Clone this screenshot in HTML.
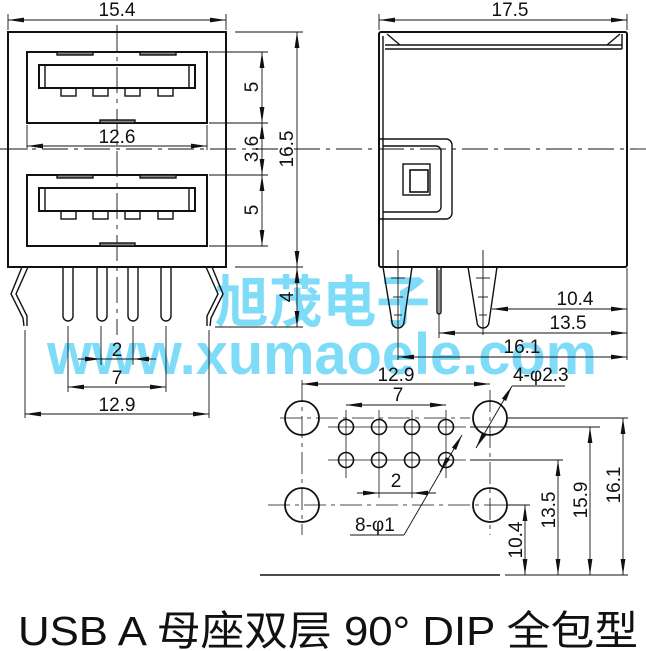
<!DOCTYPE html>
<html><head><meta charset="utf-8"><style>
html,body{margin:0;padding:0;background:#fff}
svg{display:block}
text{font-family:"Liberation Sans","Noto Sans CJK SC",sans-serif;fill:#111}
</style></head><body>
<svg width="646" height="651" viewBox="0 0 646 651" xmlns="http://www.w3.org/2000/svg">
<defs>
<marker id="a" viewBox="0 0 16 6" refX="16" refY="3" markerWidth="16" markerHeight="6" markerUnits="userSpaceOnUse" orient="auto-start-reverse"><path d="M0,0.6 L16,3 L0,5.4z" fill="#111"/></marker>
</defs>
<text x="215" y="322" font-size="56" font-weight="bold" style="fill:#7fdcf8" textLength="215" lengthAdjust="spacingAndGlyphs">旭茂电子</text>
<text x="47" y="374" font-size="58" font-weight="bold" style="fill:#7fdcf8" textLength="550" lengthAdjust="spacingAndGlyphs">www.xumaoele.com</text>

<g fill="none" stroke="#111" stroke-width="1.4">
<line x1="0" y1="149" x2="646" y2="149" stroke-width="0.9" stroke-dasharray="26,6,4,6"/>
<line x1="117" y1="25" x2="117" y2="335" stroke-width="0.9" stroke-dasharray="26,6,4,6"/>

<rect x="8" y="32" width="218" height="235" stroke-width="2"/>
<rect x="27" y="52" width="180" height="71" stroke-width="2"/>
<rect x="39" y="65" width="156" height="23" stroke-width="2"/>
<line x1="45" y1="65" x2="45" y2="88"/><line x1="189" y1="65" x2="189" y2="88"/>
<rect x="61" y="88" width="15" height="8"/><rect x="93" y="88" width="15" height="8"/><rect x="125" y="88" width="15" height="8"/><rect x="158" y="88" width="15" height="8"/>
<rect x="57" y="52" width="36" height="3" fill="#888"/><rect x="140" y="52" width="36" height="3" fill="#888"/>
<rect x="100" y="120" width="35" height="3" fill="#888"/>
<rect x="27" y="175" width="180" height="71" stroke-width="2"/>
<rect x="39" y="188" width="156" height="23" stroke-width="2"/>
<line x1="45" y1="188" x2="45" y2="211"/><line x1="189" y1="188" x2="189" y2="211"/>
<rect x="61" y="211" width="15" height="8"/><rect x="93" y="211" width="15" height="8"/><rect x="125" y="211" width="15" height="8"/><rect x="158" y="211" width="15" height="8"/>
<rect x="57" y="175" width="36" height="3" fill="#888"/><rect x="140" y="175" width="36" height="3" fill="#888"/>
<rect x="100" y="243" width="35" height="3" fill="#888"/>
<path d="M63,267 V316 a5,5 0 0 0 10,0 V267"/>
<path d="M97,267 V316 a5,5 0 0 0 10,0 V267"/>
<path d="M128,267 V316 a5,5 0 0 0 10,0 V267"/>
<path d="M161,267 V316 a5,5 0 0 0 10,0 V267"/>
<path d="M22,267 L11,294 L23,318 L24,326 M28,267 L16,294 L27,316 L27,326"/>
<path d="M212,267 L223,294 L211,318 L210,326 M206,267 L218,294 L207,316 L207,326"/>
<g stroke-width="0.9">
<line x1="8" y1="14" x2="8" y2="30"/><line x1="226" y1="14" x2="226" y2="30"/>
<line x1="8" y1="20" x2="226" y2="20" marker-start="url(#a)" marker-end="url(#a)"/>
<line x1="27" y1="125" x2="27" y2="150"/><line x1="207" y1="125" x2="207" y2="150"/>
<line x1="27" y1="146" x2="207" y2="146" marker-start="url(#a)" marker-end="url(#a)"/>
<line x1="209" y1="52" x2="268" y2="52"/><line x1="209" y1="123" x2="268" y2="123"/><line x1="209" y1="175" x2="268" y2="175"/><line x1="209" y1="246" x2="268" y2="246"/>
<line x1="262" y1="52" x2="262" y2="123" marker-start="url(#a)" marker-end="url(#a)"/>
<line x1="262" y1="123" x2="262" y2="175" marker-start="url(#a)" marker-end="url(#a)"/>
<line x1="262" y1="175" x2="262" y2="246" marker-start="url(#a)" marker-end="url(#a)"/>
<line x1="235" y1="32" x2="303" y2="32"/><line x1="235" y1="267" x2="303" y2="267"/><line x1="215" y1="327" x2="303" y2="327"/>
<line x1="297" y1="32" x2="297" y2="267" marker-start="url(#a)" marker-end="url(#a)"/>
<line x1="297" y1="267" x2="297" y2="327" marker-start="url(#a)" marker-end="url(#a)"/>
<line x1="25" y1="330" x2="25" y2="418"/><line x1="209" y1="330" x2="209" y2="418"/>
<line x1="68" y1="326" x2="68" y2="392"/><line x1="166" y1="326" x2="166" y2="392"/>
<line x1="101" y1="326" x2="101" y2="365"/><line x1="133" y1="326" x2="133" y2="365"/>
<line x1="78" y1="359" x2="101" y2="359" marker-end="url(#a)"/><line x1="156" y1="359" x2="133" y2="359" marker-end="url(#a)"/><line x1="101" y1="359" x2="133" y2="359"/>
<line x1="68" y1="387" x2="166" y2="387" marker-start="url(#a)" marker-end="url(#a)"/>
<line x1="25" y1="414" x2="209" y2="414" marker-start="url(#a)" marker-end="url(#a)"/>
</g>

<rect x="379" y="32" width="248" height="235" stroke-width="2" rx="2"/>
<line x1="383" y1="36" x2="383" y2="267"/>
<line x1="385" y1="45" x2="622" y2="45"/><line x1="385" y1="49" x2="622" y2="49"/>
<line x1="387" y1="34" x2="400" y2="45"/><line x1="620" y1="34" x2="607" y2="45"/>
<line x1="622" y1="34" x2="622" y2="49"/>
<path d="M379,139 H446 a6,6 0 0 1 6,6 V213 a6,6 0 0 1 -6,6 H379"/>
<path d="M383,146 H436 a5,5 0 0 1 5,5 V207 a5,5 0 0 1 -5,5 H383"/>
<rect x="403" y="164" width="27" height="31"/>
<rect x="410" y="170" width="18" height="22" stroke-width="1.6"/>
<path d="M383,267 L392,322 a6,6 0 0 0 12,0 L412,267"/>
<path d="M468,267 L477,322 a6,6 0 0 0 12,0 L497,267"/>
<path d="M437,267 V312 a2,2 0 0 0 4,0 V267"/>
<g stroke-width="0.9">
<line x1="398" y1="250" x2="398" y2="360"/><line x1="483" y1="250" x2="483" y2="335"/>
<line x1="391" y1="278" x2="405" y2="278"/><line x1="393" y1="297" x2="403" y2="297"/><line x1="394" y1="315" x2="402" y2="315"/>
<line x1="476" y1="278" x2="490" y2="278"/><line x1="478" y1="297" x2="488" y2="297"/><line x1="479" y1="315" x2="487" y2="315"/>
<line x1="379" y1="14" x2="379" y2="30"/><line x1="627" y1="14" x2="627" y2="30"/>
<line x1="379" y1="20" x2="627" y2="20" marker-start="url(#a)" marker-end="url(#a)"/>
<line x1="627" y1="268" x2="627" y2="360"/>
<line x1="439" y1="270" x2="439" y2="338"/>
<line x1="492" y1="309" x2="627" y2="309" marker-start="url(#a)" marker-end="url(#a)"/>
<line x1="439" y1="333" x2="627" y2="333" marker-start="url(#a)" marker-end="url(#a)"/>
<line x1="398" y1="357" x2="627" y2="357" marker-start="url(#a)" marker-end="url(#a)"/>
</g>

<circle cx="302" cy="418" r="17" stroke-width="1.8"/><circle cx="490" cy="418" r="17" stroke-width="1.8"/>
<circle cx="302" cy="505" r="17" stroke-width="1.8"/><circle cx="490" cy="505" r="17" stroke-width="1.8"/>
<g stroke-width="1.6">
<circle cx="346" cy="427" r="7.5"/><circle cx="379" cy="427" r="7.5"/><circle cx="412" cy="427" r="7.5"/><circle cx="446" cy="427" r="7.5"/>
<circle cx="346" cy="460" r="7.5"/><circle cx="379" cy="460" r="7.5"/><circle cx="412" cy="460" r="7.5"/><circle cx="446" cy="460" r="7.5"/>
</g>
<g stroke-width="0.8">
<line x1="280" y1="418" x2="470" y2="418" stroke-dasharray="22,5,4,5"/>
<line x1="268" y1="505" x2="530" y2="505" stroke-dasharray="22,5,4,5"/>
<line x1="302" y1="380" x2="302" y2="535" stroke-dasharray="22,5,4,5"/>
<line x1="490" y1="390" x2="490" y2="535" stroke-dasharray="22,5,4,5"/>
<line x1="328" y1="427" x2="466" y2="427"/><line x1="328" y1="460" x2="466" y2="460"/>
<line x1="346" y1="410" x2="346" y2="478"/><line x1="379" y1="410" x2="379" y2="498"/><line x1="412" y1="410" x2="412" y2="498"/><line x1="446" y1="410" x2="446" y2="478"/>
</g>
<g stroke-width="0.9">
<line x1="302" y1="384" x2="490" y2="384" marker-start="url(#a)" marker-end="url(#a)"/>
<line x1="346" y1="405" x2="446" y2="405" marker-start="url(#a)" marker-end="url(#a)"/>
<line x1="357" y1="493" x2="379" y2="493" marker-end="url(#a)"/><line x1="436" y1="493" x2="412" y2="493" marker-end="url(#a)"/><line x1="379" y1="493" x2="412" y2="493"/>
<line x1="507" y1="418" x2="628" y2="418"/><line x1="470" y1="427" x2="600" y2="427"/><line x1="470" y1="460" x2="563" y2="460"/><line x1="507" y1="505" x2="530" y2="505"/>
<line x1="505" y1="575" x2="628" y2="575"/>
<line x1="525" y1="505" x2="525" y2="575" marker-start="url(#a)" marker-end="url(#a)"/>
<line x1="558" y1="460" x2="558" y2="575" marker-start="url(#a)" marker-end="url(#a)"/>
<line x1="590" y1="427" x2="590" y2="575" marker-start="url(#a)" marker-end="url(#a)"/>
<line x1="623" y1="418" x2="623" y2="575" marker-start="url(#a)" marker-end="url(#a)"/>
<line x1="476" y1="448" x2="512" y2="386" marker-start="url(#a)" marker-end="url(#a)"/>
<line x1="512" y1="386" x2="565" y2="386"/>
<line x1="404" y1="535" x2="462" y2="435" marker-end="url(#a)"/>
<line x1="350" y1="535" x2="404" y2="535"/>
<line x1="448" y1="458" x2="440" y2="472" marker-end="url(#a)"/>
</g>
<line x1="260" y1="575" x2="500" y2="575" stroke-width="1.6"/>
</g>

<g font-size="19">
<text x="117" y="16" text-anchor="middle">15.4</text>
<text x="117" y="143" text-anchor="middle">12.6</text>
<text transform="translate(258,87) rotate(-90)" text-anchor="middle">5</text>
<text transform="translate(258,149) rotate(-90)" text-anchor="middle">3.6</text>
<text transform="translate(258,210) rotate(-90)" text-anchor="middle">5</text>
<text transform="translate(293,149) rotate(-90)" text-anchor="middle">16.5</text>
<text transform="translate(293,297) rotate(-90)" text-anchor="middle">4</text>
<text x="117" y="356" text-anchor="middle">2</text>
<text x="117" y="384" text-anchor="middle">7</text>
<text x="117" y="411" text-anchor="middle">12.9</text>
<text x="510" y="16" text-anchor="middle">17.5</text>
<text x="575" y="305" text-anchor="middle">10.4</text>
<text x="568" y="329" text-anchor="middle">13.5</text>
<text x="522" y="353" text-anchor="middle">16.1</text>
<text x="396" y="381" text-anchor="middle">12.9</text>
<text x="398" y="401" text-anchor="middle">7</text>
<text x="396" y="487" text-anchor="middle">2</text>
<text x="513" y="381">4-φ2.3</text>
<text x="355" y="531">8-φ1</text>
<text transform="translate(522,540) rotate(-90)" text-anchor="middle">10.4</text>
<text transform="translate(555,510) rotate(-90)" text-anchor="middle">13.5</text>
<text transform="translate(587,500) rotate(-90)" text-anchor="middle">15.9</text>
<text transform="translate(620,485) rotate(-90)" text-anchor="middle">16.1</text>
</g>
<text x="18" y="645" font-size="41" textLength="620" lengthAdjust="spacingAndGlyphs">USB A 母座双层 90°  DIP 全包型</text>
</svg>
</body></html>
